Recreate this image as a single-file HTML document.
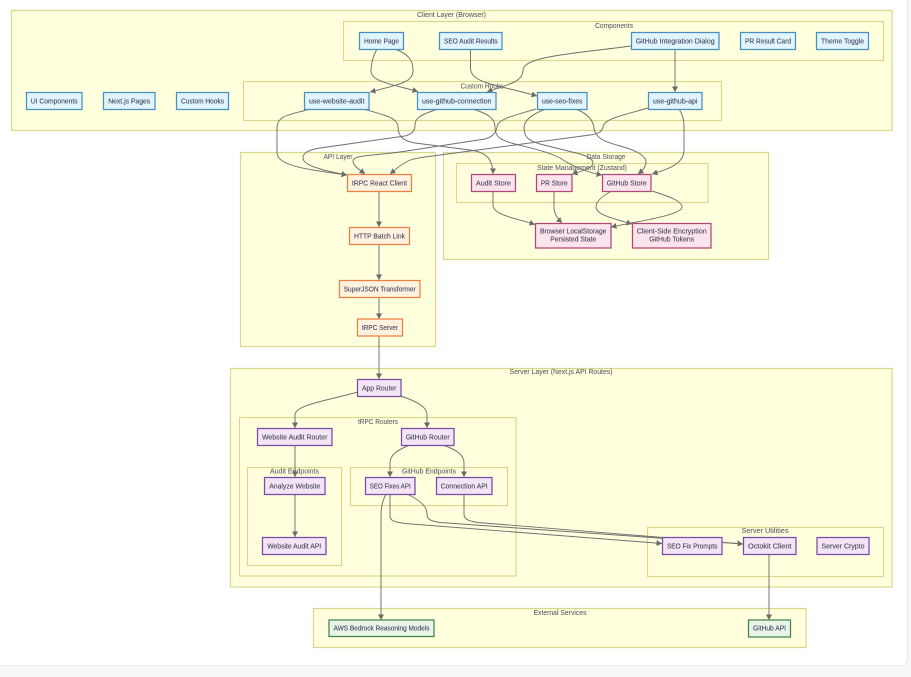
<!DOCTYPE html>
<html>
<head>
<meta charset="utf-8">
<style>
html,body{margin:0;padding:0;width:911px;height:677px;overflow:hidden;background:#f6f7f9}
svg{display:block;position:absolute;left:0;top:0;filter:blur(.35px)}
text{font-family:"Liberation Sans",Arial,sans-serif;font-size:7.4px;fill:#44445a;stroke:#44445a;stroke-width:.1;text-anchor:middle}
.c{fill:#ffffde;stroke:#d8d88c;stroke-width:1.2}
.e{fill:none;stroke:#707070;stroke-width:.95;marker-end:url(#a)}
.b{fill:#e1f5fe;stroke:#4a8fc0;stroke-width:1.25}
.o{fill:#fff3e0;stroke:#ee8040;stroke-width:1.25}
.p{fill:#fce4ec;stroke:#b0487c;stroke-width:1.25}
.v{fill:#f3e5f5;stroke:#7a4aa8;stroke-width:1.25}
.g{fill:#e8f5e8;stroke:#47814f;stroke-width:1.25}
.l{fill:#5a5a64;stroke:#5a5a64;stroke-width:.06}
</style>
</head>
<body>
<svg width="911" height="677" viewBox="0 0 911 677" xmlns="http://www.w3.org/2000/svg">
<defs>
<marker id="a" markerUnits="userSpaceOnUse" markerWidth="7" markerHeight="7" refX="5.5" refY="3" orient="auto">
<path d="M0 0L5.5 3L0 6z" fill="#6a6a6a"/>
</marker>
</defs>

<rect x="-10" y="-10" width="917.5" height="675.5" rx="6" fill="#fff" stroke="#e8e9ec" stroke-width="1"/>

<!-- clusters -->
<rect class="c" x="11.5" y="10.5" width="880.5" height="120"/>
<rect class="c" x="343.5" y="21.5" width="540" height="39"/>
<rect class="c" x="243.5" y="81.5" width="478" height="39"/>
<rect class="c" x="240.5" y="152.5" width="195" height="194"/>
<rect class="c" x="443.5" y="152.5" width="325" height="107"/>
<rect class="c" x="456.5" y="163.5" width="251.5" height="39"/>
<rect class="c" x="230.5" y="368.5" width="661.5" height="218.5"/>
<rect class="c" x="239.5" y="417.5" width="276.5" height="158.5"/>
<rect class="c" x="247.5" y="467.5" width="94" height="98"/>
<rect class="c" x="350.5" y="467.5" width="157" height="38"/>
<rect class="c" x="647.5" y="527.5" width="236" height="49"/>
<rect class="c" x="313.5" y="608.5" width="492.5" height="39"/>

<!-- cluster labels -->
<text class="l" x="451.5" y="17" textLength="69" lengthAdjust="spacingAndGlyphs">Client Layer (Browser)</text>
<text class="l" x="614" y="28" textLength="38" lengthAdjust="spacingAndGlyphs">Components</text>
<text class="l" x="482" y="88.5" textLength="43" lengthAdjust="spacingAndGlyphs">Custom Hooks</text>
<text class="l" x="338" y="159" textLength="29" lengthAdjust="spacingAndGlyphs">API Layer</text>
<text class="l" x="606" y="159" textLength="39" lengthAdjust="spacingAndGlyphs">Data Storage</text>
<text class="l" x="582" y="170" textLength="90" lengthAdjust="spacingAndGlyphs">State Management (Zustand)</text>
<text class="l" x="561" y="374" textLength="103" lengthAdjust="spacingAndGlyphs">Server Layer (Next.js API Routes)</text>
<text class="l" x="378" y="424" textLength="40" lengthAdjust="spacingAndGlyphs">tRPC Routers</text>
<text class="l" x="294.5" y="473.5" textLength="49" lengthAdjust="spacingAndGlyphs">Audit Endpoints</text>
<text class="l" x="429" y="473.5" textLength="54" lengthAdjust="spacingAndGlyphs">GitHub Endpoints</text>
<text class="l" x="765" y="533" textLength="47" lengthAdjust="spacingAndGlyphs">Server Utilities</text>
<text class="l" x="560" y="615" textLength="53" lengthAdjust="spacingAndGlyphs">External Services</text>

<!-- edges -->
<path class="e" d="M395 49C408 54 413 60 413 70C413 82 402 84 370 92"/>
<path class="e" d="M377 49C372 58 371 65 371 71C371 82 395 85 418 91.5"/>
<path class="e" d="M470.5 49V68C470.5 84 500 85 537 96"/>
<path class="e" d="M631 46C580 53 523 56 523 70C523 83 505 85 487 92"/>
<path class="e" d="M675 49V92"/>
<path class="e" d="M310 109C290 115 277 115 277 128V153C277 166 310 170 347 175"/>
<path class="e" d="M363 109C385 115 398 118 398 127C398 136 403 141 415 143L470 150C485 152 493 158 493 174"/>
<path class="e" d="M438 109C420 115 415 118 415 125C415 131 412 134 405 136L320 148C308 150 303 153 303 158C303 165 320 170 347 175"/>
<path class="e" d="M473 109C488 114 495 118 495 127C495 137 500 140 515 144C535 149 548 152 560 158C572 166 585 172 602 175"/>
<path class="e" d="M536 109C512 116 498 119 497 127C496 133 492 137 485 139L400 152C370 156 353 155 353 161C353 166 360 170 365 174"/>
<path class="e" d="M546 109C532 114 524 120 524 128C524 138 530 141 540 144L580 154C590 157 593 160 593 163C593 168 583 171 572 174"/>
<path class="e" d="M576 109C588 114 593 120 594 128C595 138 605 142 620 146C635 150 646 155 646 162C646 167 642 171 638 174"/>
<path class="e" d="M648 108C620 116 604 119 603 127C602 132 598 134 590 135L440 155C425 157 415 158 408 161C400 165 395 170 390 174"/>
<path class="e" d="M679 109C683 115 684 120 684 128V150C684 165 665 170 652 174"/>
<path class="e" d="M379 191V227"/>
<path class="e" d="M379 244V280"/>
<path class="e" d="M379 297V319"/>
<path class="e" d="M379 336V379"/>
<path class="e" d="M493 191V205C493 215 515 218 535 224.5"/>
<path class="e" d="M554 191V208C554 214 558 219 562 223"/>
<path class="e" d="M612 191C602 196 596 201 596 207C596 215 615 219 632 224"/>
<path class="e" d="M652 191C668 196 682 201 682 207C682 215 640 221 611 227"/>
<path class="e" d="M358 392C325 401 295 405 295 415V428"/>
<path class="e" d="M401 396C418 402 427 407 427 415V428"/>
<path class="e" d="M295 445V477"/>
<path class="e" d="M295 494V537"/>
<path class="e" d="M410 445C397 450 390 455 390 463V477"/>
<path class="e" d="M443 445C457 450 464 455 464 463V477"/>
<path class="e" d="M386 494C382 502 381 508 381 516V620"/>
<path class="e" d="M390 494V516C390 521 395 522 405 523.5L662 543.5"/>
<path class="e" d="M407 494C420 500 427 507 427 514C427 519 430 521 440 522.5L743 544"/>
<path class="e" d="M464 494V514C464 519 468 521 478 522.5L743 544"/>
<path class="e" d="M769 554V620"/>

<!-- nodes -->
<rect class="b" x="359.5" y="32.5" width="44" height="17"/><text x="381.5" y="43.5" textLength="35" lengthAdjust="spacingAndGlyphs">Home Page</text>
<rect class="b" x="439.5" y="32.5" width="62.5" height="17"/><text x="470.8" y="43.5" textLength="53.5" lengthAdjust="spacingAndGlyphs">SEO Audit Results</text>
<rect class="b" x="631.5" y="32.5" width="87.5" height="17"/><text x="675.2" y="43.5" textLength="79" lengthAdjust="spacingAndGlyphs">GitHub Integration Dialog</text>
<rect class="b" x="740.5" y="32.5" width="55" height="17"/><text x="768" y="43.5" textLength="46" lengthAdjust="spacingAndGlyphs">PR Result Card</text>
<rect class="b" x="816.5" y="32.5" width="52" height="17"/><text x="842.5" y="43.5" textLength="43" lengthAdjust="spacingAndGlyphs">Theme Toggle</text>

<rect class="b" x="26.5" y="92.5" width="55.5" height="17"/><text x="54.2" y="103.5" textLength="47" lengthAdjust="spacingAndGlyphs">UI Components</text>
<rect class="b" x="103.5" y="92.5" width="51.5" height="17"/><text x="129.2" y="103.5" textLength="42" lengthAdjust="spacingAndGlyphs">Next.js Pages</text>
<rect class="b" x="176.5" y="92.5" width="52" height="17"/><text x="202.5" y="103.5" textLength="43" lengthAdjust="spacingAndGlyphs">Custom Hooks</text>
<rect class="b" x="304.5" y="92.5" width="64.5" height="17"/><text x="336.7" y="103.5" textLength="55.5" lengthAdjust="spacingAndGlyphs">use-website-audit</text>
<rect class="b" x="417.5" y="92.5" width="78.5" height="17"/><text x="456.7" y="103.5" textLength="69.5" lengthAdjust="spacingAndGlyphs">use-github-connection</text>
<rect class="b" x="537.5" y="92.5" width="49.5" height="17"/><text x="562.2" y="103.5" textLength="40.5" lengthAdjust="spacingAndGlyphs">use-seo-fixes</text>
<rect class="b" x="648.5" y="92.5" width="53.5" height="17"/><text x="675.2" y="103.5" textLength="44.5" lengthAdjust="spacingAndGlyphs">use-github-api</text>

<rect class="o" x="347.5" y="174.5" width="64" height="17"/><text x="379.5" y="185.5" textLength="55" lengthAdjust="spacingAndGlyphs">tRPC React Client</text>
<rect class="o" x="349.5" y="227.5" width="60" height="17"/><text x="379.5" y="238.5" textLength="51" lengthAdjust="spacingAndGlyphs">HTTP Batch Link</text>
<rect class="o" x="339.5" y="280.5" width="80.5" height="17"/><text x="379.7" y="291.5" textLength="72" lengthAdjust="spacingAndGlyphs">SuperJSON Transformer</text>
<rect class="o" x="357.5" y="319" width="45" height="17"/><text x="380" y="330" textLength="36" lengthAdjust="spacingAndGlyphs">tRPC Server</text>

<rect class="p" x="471.5" y="174.5" width="44" height="17"/><text x="493.5" y="185.5" textLength="35" lengthAdjust="spacingAndGlyphs">Audit Store</text>
<rect class="p" x="536.5" y="174.5" width="35.5" height="17"/><text x="554.2" y="185.5" textLength="27" lengthAdjust="spacingAndGlyphs">PR Store</text>
<rect class="p" x="602.5" y="174.5" width="48.5" height="17"/><text x="626.7" y="185.5" textLength="40" lengthAdjust="spacingAndGlyphs">GitHub Store</text>
<rect class="p" x="535.5" y="223.5" width="75.5" height="24.5"/><text x="573.2" y="233.5" textLength="66.5" lengthAdjust="spacingAndGlyphs">Browser LocalStorage</text><text x="573.2" y="241.5" textLength="46" lengthAdjust="spacingAndGlyphs">Persisted State</text>
<rect class="p" x="632.5" y="223.5" width="78.5" height="24.5"/><text x="671.7" y="233.5" textLength="70" lengthAdjust="spacingAndGlyphs">Client-Side Encryption</text><text x="671.7" y="241.5" textLength="45" lengthAdjust="spacingAndGlyphs">GitHub Tokens</text>

<rect class="v" x="357.5" y="379.5" width="43.5" height="17"/><text x="379.2" y="390.5" textLength="34.5" lengthAdjust="spacingAndGlyphs">App Router</text>
<rect class="v" x="257.5" y="428.5" width="74.5" height="17"/><text x="294.7" y="439.5" textLength="65.5" lengthAdjust="spacingAndGlyphs">Website Audit Router</text>
<rect class="v" x="401.5" y="428.5" width="52.5" height="17"/><text x="427.7" y="439.5" textLength="44" lengthAdjust="spacingAndGlyphs">GitHub Router</text>
<rect class="v" x="264.5" y="477.5" width="60.5" height="17"/><text x="294.7" y="488.5" textLength="51" lengthAdjust="spacingAndGlyphs">Analyze Website</text>
<rect class="v" x="365.5" y="477.5" width="49.5" height="17"/><text x="390.2" y="488.5" textLength="41" lengthAdjust="spacingAndGlyphs">SEO Fixes API</text>
<rect class="v" x="436.5" y="477.5" width="55.5" height="17"/><text x="464.2" y="488.5" textLength="47" lengthAdjust="spacingAndGlyphs">Connection API</text>
<rect class="v" x="262.5" y="537.5" width="63.5" height="17"/><text x="294.2" y="548.5" textLength="54" lengthAdjust="spacingAndGlyphs">Website Audit API</text>
<rect class="v" x="662.5" y="537.5" width="59.5" height="17"/><text x="692.2" y="548.5" textLength="50.5" lengthAdjust="spacingAndGlyphs">SEO Fix Prompts</text>
<rect class="v" x="743.5" y="537.5" width="52.5" height="17"/><text x="769.7" y="548.5" textLength="43.5" lengthAdjust="spacingAndGlyphs">Octokit Client</text>
<rect class="v" x="817" y="537.5" width="52" height="17"/><text x="843" y="548.5" textLength="43" lengthAdjust="spacingAndGlyphs">Server Crypto</text>

<rect class="g" x="329" y="620" width="105" height="16.5"/><text x="381.5" y="630.5" textLength="96" lengthAdjust="spacingAndGlyphs">AWS Bedrock Reasoning Models</text>
<rect class="g" x="748.5" y="620" width="42" height="17"/><text x="769.5" y="630.5" textLength="33" lengthAdjust="spacingAndGlyphs">GitHub API</text>
</svg>
</body>
</html>
